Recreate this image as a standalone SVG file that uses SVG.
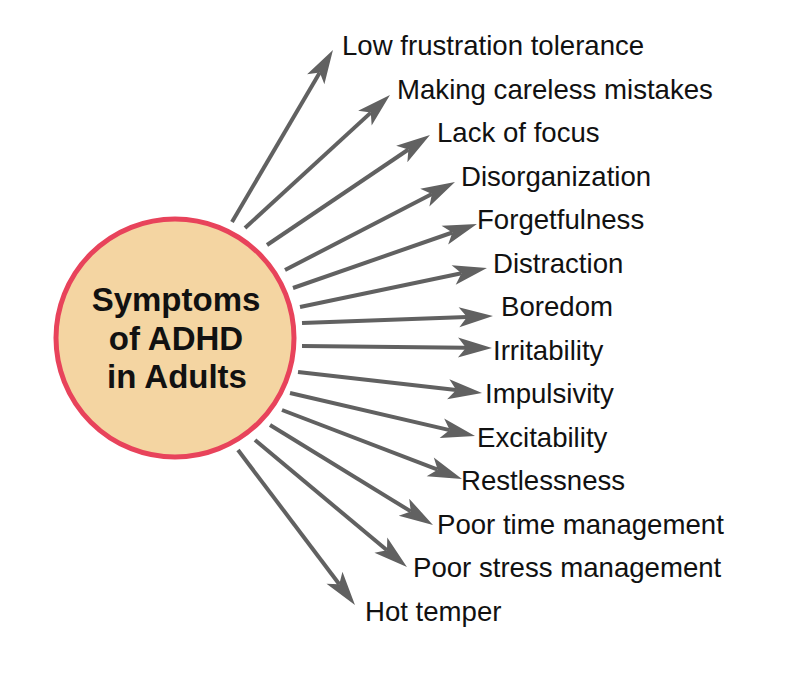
<svg xmlns="http://www.w3.org/2000/svg" width="800" height="674" viewBox="0 0 800 674">
<style>
.lbl{font-family:"Liberation Sans",Arial,sans-serif;font-size:27.6px;fill:#111}
.title{font-family:"Liberation Sans",Arial,sans-serif;font-size:33px;font-weight:bold;fill:#111;text-anchor:middle}
.conn line{stroke:#616161;stroke-width:4;marker-end:url(#ah)}
</style>
<defs>
<marker id="ah" markerUnits="userSpaceOnUse" markerWidth="40" markerHeight="22" viewBox="0 -11 40 22" refX="8" refY="0" orient="auto" overflow="visible">
<path d="M0,-10 L34,0 L0,10 L8,0 Z" fill="#616161"/>
</marker>
</defs>
<rect width="800" height="674" fill="#ffffff"/>
<g id="connectors" class="conn">
<line x1="232" y1="222" x2="319.8" y2="72.4"/>
<line x1="245" y1="228" x2="370.8" y2="112.6"/>
<line x1="267" y1="245" x2="408.4" y2="149.5"/>
<line x1="285" y1="270" x2="431.9" y2="194.0"/>
<line x1="293" y1="288" x2="452.4" y2="232.5"/>
<line x1="300" y1="307" x2="461.5" y2="273.3"/>
<line x1="302" y1="323" x2="467.0" y2="317.0"/>
<line x1="302" y1="346" x2="466.0" y2="347.7"/>
<line x1="298" y1="372" x2="456.2" y2="390.1"/>
<line x1="290" y1="393" x2="449.7" y2="430.1"/>
<line x1="282" y1="410" x2="437.7" y2="469.7"/>
<line x1="270" y1="425" x2="410.8" y2="511.4"/>
<line x1="255" y1="440" x2="387.0" y2="550.3"/>
<line x1="238" y1="450" x2="339.3" y2="584.2"/>
</g>
<g id="center">
<circle cx="175" cy="338" r="119" fill="#f4d5a2" stroke="#e8435b" stroke-width="5"/>
<text class="title" x="176" y="311">Symptoms</text>
<text class="title" x="176" y="350">of ADHD</text>
<text class="title" x="177" y="388">in Adults</text>
</g>
<g id="n1"><text class="lbl" x="342" y="55">Low frustration tolerance</text></g>
<g id="n2"><text class="lbl" x="397" y="99">Making careless mistakes</text></g>
<g id="n3"><text class="lbl" x="437" y="142">Lack of focus</text></g>
<g id="n4"><text class="lbl" x="461" y="186">Disorganization</text></g>
<g id="n5"><text class="lbl" x="477" y="229">Forgetfulness</text></g>
<g id="n6"><text class="lbl" x="493" y="273">Distraction</text></g>
<g id="n7"><text class="lbl" x="501" y="316">Boredom</text></g>
<g id="n8"><text class="lbl" x="493" y="360">Irritability</text></g>
<g id="n9"><text class="lbl" x="485" y="403">Impulsivity</text></g>
<g id="n10"><text class="lbl" x="477" y="447">Excitability</text></g>
<g id="n11"><text class="lbl" x="461" y="490">Restlessness</text></g>
<g id="n12"><text class="lbl" x="437" y="534">Poor time management</text></g>
<g id="n13"><text class="lbl" x="413" y="577">Poor stress management</text></g>
<g id="n14"><text class="lbl" x="365" y="621">Hot temper</text></g>
</svg>
